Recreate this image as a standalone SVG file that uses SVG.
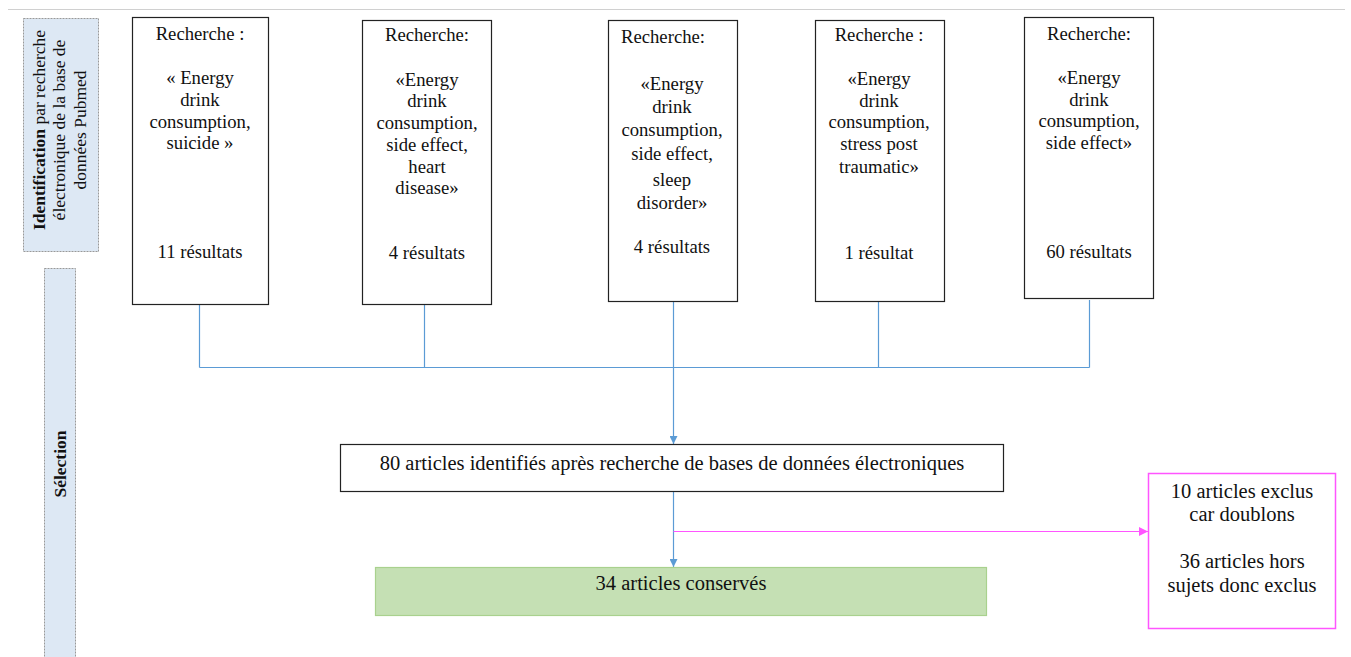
<svg xmlns="http://www.w3.org/2000/svg" width="1351" height="657" viewBox="0 0 1351 657">
<style>
text{font-family:"Liberation Serif","Times New Roman",serif;font-size:18.7px;fill:#111;text-anchor:middle}
.big{font-size:20.5px}
.rot{font-size:17.5px}
.box{fill:#fff;stroke:#222;stroke-width:1.2}
.lab{fill:#dde8f4;stroke:#999;stroke-width:1;stroke-dasharray:2,1}
.conn{fill:none;stroke:#5b9bd5;stroke-width:1.2}
.mag{fill:none;stroke:#ff55ff;stroke-width:1.2}
</style>
<defs>
<marker id="ab" viewBox="0 0 10 10" refX="10" refY="5" markerWidth="8" markerHeight="8" markerUnits="userSpaceOnUse" orient="auto"><path d="M0,0 L10,5 L0,10 z" fill="#5b9bd5"/></marker>
<marker id="am" viewBox="0 0 10 10" refX="10" refY="5" markerWidth="9" markerHeight="9" markerUnits="userSpaceOnUse" orient="auto"><path d="M0,0 L10,5 L0,10 z" fill="#ff55ff"/></marker>
</defs>
<line x1="8" y1="9.5" x2="1345" y2="9.5" stroke="#d0d0d0" stroke-width="1"/>
<g id="label-identification">
<rect class="lab" x="23.5" y="18.5" width="75" height="233"/>
<text class="rot" transform="translate(45,130) rotate(-90)"><tspan font-weight="bold">Identification</tspan> par recherche</text>
<text class="rot" transform="translate(65,130) rotate(-90)">électronique de la base de</text>
<text class="rot" transform="translate(86,130) rotate(-90)">données Pubmed</text>
</g>
<g id="label-selection">
<rect class="lab" x="44.5" y="268.5" width="31" height="400"/>
<text class="rot" transform="translate(66,464) rotate(-90)" font-weight="bold">Sélection</text>
</g>
<g id="connectors">
<path class="conn" d="M199.5,304 V367.5 M424.5,304 V367.5 M673.5,302 V367.5 M878.5,302 V367.5 M1089.5,300 V367.5 M199.5,367.5 H1089.5"/>
<line class="conn" x1="673.5" y1="367.5" x2="673.5" y2="444" marker-end="url(#ab)"/>
<line class="conn" x1="673.5" y1="491" x2="673.5" y2="567" marker-end="url(#ab)"/>
<line class="mag" x1="673.5" y1="531.5" x2="1148" y2="531.5" marker-end="url(#am)"/>
</g>
<g id="search1">
<rect class="box" x="132.5" y="17.5" width="136" height="287"/>
<text x="200" y="40">Recherche :</text>
<text x="200" y="84">« Energy</text>
<text x="200" y="106">drink</text>
<text x="200" y="128">consumption,</text>
<text x="200" y="149">suicide »</text>
<text x="200" y="258">11 résultats</text>
</g>
<g id="search2">
<rect class="box" x="362.5" y="20.5" width="129" height="284"/>
<text x="427" y="41">Recherche:</text>
<text x="427" y="86">«Energy</text>
<text x="427" y="107">drink</text>
<text x="427" y="129">consumption,</text>
<text x="427" y="151">side effect,</text>
<text x="427" y="173">heart</text>
<text x="427" y="194">disease»</text>
<text x="427" y="259">4 résultats</text>
</g>
<g id="search3">
<rect class="box" x="608.5" y="20.5" width="129" height="281"/>
<text x="663" y="43">Recherche:</text>
<text x="672" y="90">«Energy</text>
<text x="672" y="113">drink</text>
<text x="672" y="136">consumption,</text>
<text x="672" y="160">side effect,</text>
<text x="672" y="186">sleep</text>
<text x="672" y="209">disorder»</text>
<text x="672" y="253">4 résultats</text>
</g>
<g id="search4">
<rect class="box" x="815.5" y="20.5" width="129" height="281"/>
<text x="879" y="41">Recherche :</text>
<text x="879" y="85">«Energy</text>
<text x="879" y="107">drink</text>
<text x="879" y="128">consumption,</text>
<text x="879" y="150">stress post</text>
<text x="879" y="173">traumatic»</text>
<text x="879" y="259">1 résultat</text>
</g>
<g id="search5">
<rect class="box" x="1024.5" y="17.5" width="129" height="281"/>
<text x="1089" y="40">Recherche:</text>
<text x="1089" y="84">«Energy</text>
<text x="1089" y="106">drink</text>
<text x="1089" y="127">consumption,</text>
<text x="1089" y="149">side effect»</text>
<text x="1089" y="258">60 résultats</text>
</g>
<g id="identified">
<rect class="box" x="340.5" y="444.5" width="663" height="47"/>
<text class="big" x="672" y="470">80 articles identifiés après recherche de bases de données électroniques</text>
</g>
<g id="kept">
<rect x="375.5" y="567.5" width="611" height="48" fill="#c5e0b4" stroke="#a9d18e" stroke-width="1.2"/>
<text class="big" x="681" y="590">34 articles conservés</text>
</g>
<g id="excluded">
<rect x="1148.5" y="473.5" width="187" height="155" fill="#fff" stroke="#ff55ff" stroke-width="1.5"/>
<text class="big" x="1242" y="498">10 articles exclus</text>
<text class="big" x="1242" y="521">car doublons</text>
<text class="big" x="1242" y="568">36 articles hors</text>
<text class="big" x="1242" y="592">sujets donc exclus</text>
</g>
</svg>
